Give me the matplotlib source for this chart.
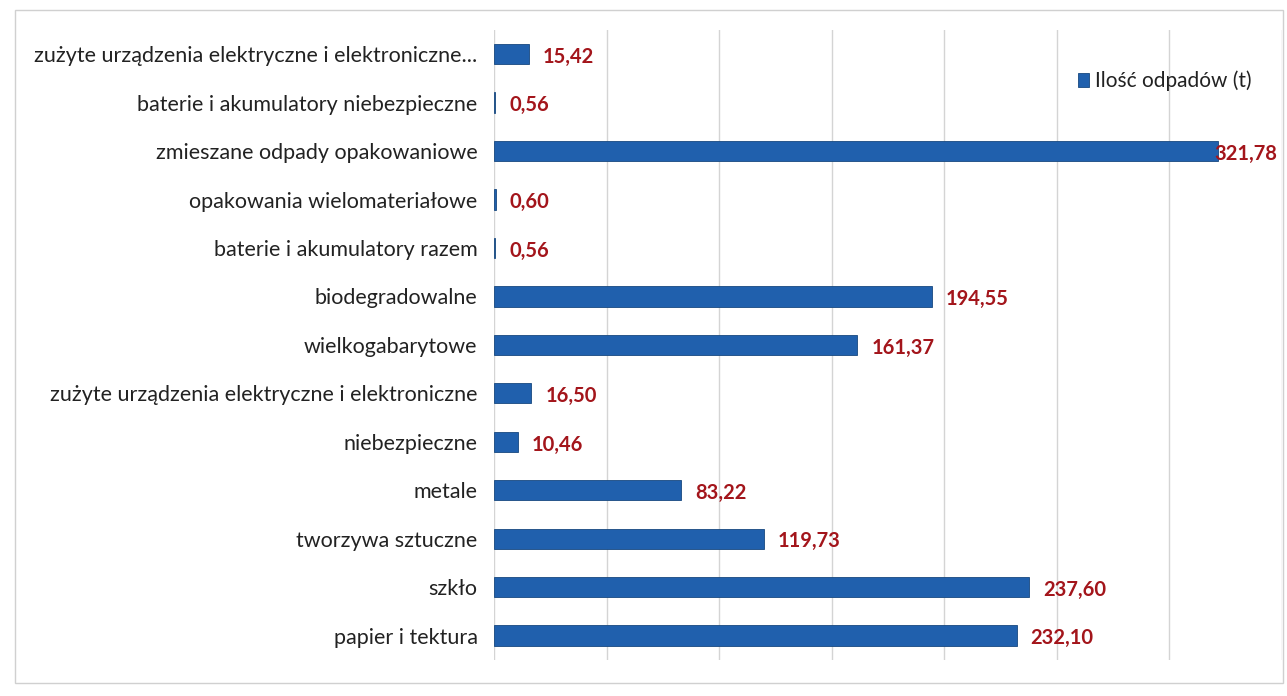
import numpy as np
import matplotlib.pyplot as plt
from matplotlib.patches import Rectangle

categories = [
    "zużyte urządzenia elektryczne i elektroniczne...",
    "baterie i akumulatory niebezpieczne",
    "zmieszane odpady opakowaniowe",
    "opakowania wielomateriałowe",
    "baterie i akumulatory razem",
    "biodegradowalne",
    "wielkogabarytowe",
    "zużyte urządzenia elektryczne i elektroniczne",
    "niebezpieczne",
    "metale",
    "tworzywa sztuczne",
    "szkło",
    "papier i tektura",
]
values = [15.42, 0.56, 321.78, 0.60, 0.56, 194.55, 161.37, 16.50, 10.46, 83.22, 119.73, 237.60, 232.10]
series_name = "Ilość odpadów (t)"

plt.rcParams['font.family'] = ['Lato', 'DejaVu Sans']

fig = plt.figure(figsize=(12.87, 6.96), dpi=100)
ax = fig.add_axes([0.384, 0.052, 0.612, 0.905])

xmax = 350
y = np.arange(len(categories))
ax.barh(y, values, height=0.42, color="#2060ad", edgecolor="#17487f",
        linewidth=0.6, label=series_name, zorder=3)

for yi, v in zip(y, values):
    txt = ("%.2f" % v).replace(".", ",")
    # label of the longest bar sits on the bar end so it stays inside the figure
    dx = -3 if v > 0.9 * xmax else 10
    ax.annotate(txt, (v, yi), xytext=(dx, -2), textcoords="offset points",
                va="center", ha="left", fontsize=14.5, fontweight="bold",
                color="#a3151b", annotation_clip=False, zorder=4)

ax.set_xlim(0, xmax)
ax.set_ylim(len(categories) - 0.5, -0.5)
ax.set_xticks(np.arange(0, xmax + 1, 50))
ax.set_xticklabels([])
ax.tick_params(axis="x", length=0)
ax.tick_params(axis="y", length=0, pad=12, labelsize=15.5, labelcolor="#222222")
ax.set_yticks(y)
ax.set_yticklabels(categories)
ax.grid(axis="x", color="#d4d4d4", linewidth=1, zorder=0)
for s in ax.spines.values():
    s.set_visible(False)

leg = ax.legend(loc="upper right", bbox_to_anchor=(0.985, 0.965), frameon=False,
                fontsize=15, handlelength=0.55, handleheight=0.6, handletextpad=0.25)
for t in leg.get_texts():
    t.set_color("#222222")

# light frame around the whole chart
fig.patches.append(Rectangle((0.012, 0.018), 0.985, 0.968, transform=fig.transFigure,
                             fill=False, edgecolor="#d0d0d0", linewidth=1))

fig.savefig("out.png", dpi=100)
